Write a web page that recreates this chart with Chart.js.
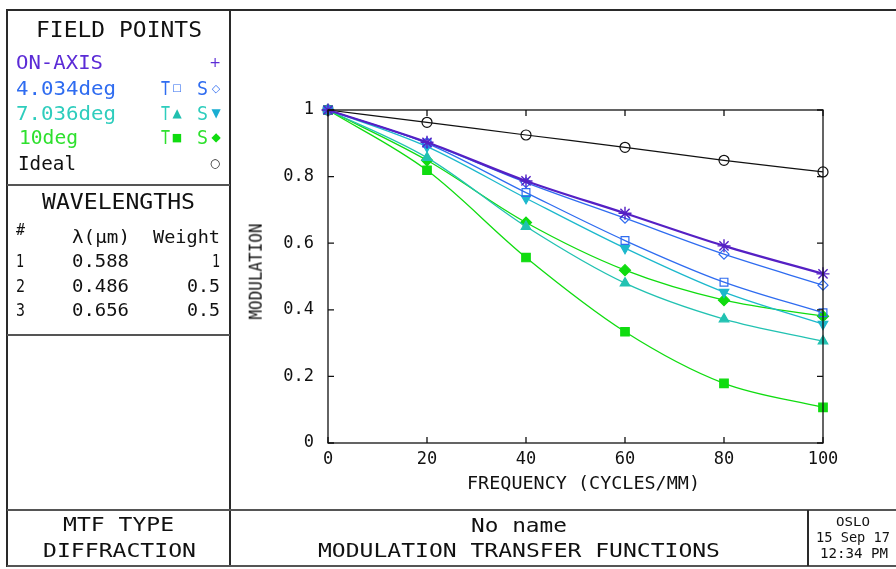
<!DOCTYPE html>
<html>
<head>
<meta charset="utf-8">
<script src="https://cdn.jsdelivr.net/npm/chart.js@4.4.1/dist/chart.umd.min.js"></script>
<style>
  html, body { margin: 0; padding: 0; background: #fff; }
  body { width: 896px; height: 569px; position: relative; overflow: hidden; font-family: "DejaVu Sans Mono", monospace; }
  #wrap { position: absolute; left: 0; top: 0; width: 896px; height: 569px; }
  .ln { position: absolute; background: #2a2a2a; }
  .t { position: absolute; white-space: pre; line-height: 1; color: #111; transform-origin: 0 50%; }
  .m { font-family: "DejaVu Sans", sans-serif; }
</style>
</head>
<body>
<div id="wrap"><canvas id="c" width="896" height="569"></canvas></div>

<!-- frame -->
<div class="ln" style="left:7px;top:9px;width:889px;height:2px"></div>
<div class="ln" style="left:6px;top:9px;width:2px;height:558px"></div>
<div class="ln" style="left:229px;top:9px;width:2px;height:558px"></div>
<div class="ln" style="left:7px;top:184px;width:223px;height:2px;background:#555"></div>
<div class="ln" style="left:7px;top:334px;width:223px;height:2px;background:#555"></div>
<div class="ln" style="left:7px;top:509px;width:889px;height:2px;background:#555"></div>
<div class="ln" style="left:7px;top:565px;width:889px;height:2px;background:#555"></div>
<div class="ln" style="left:807px;top:510px;width:2px;height:56px"></div>

<!-- field points panel -->
<div class="t" data-x="119" data-y="30" data-w="166" data-s="22" data-a="c">FIELD POINTS</div>
<div class="t" data-x="16" data-y="62" data-w="87" data-s="20" style="color:#5b2bd6">ON-AXIS</div>
<div class="t m" data-x="215" data-y="62" data-s="14" data-a="c" style="color:#5b2bd6">+</div>
<div class="t" data-x="16" data-y="88" data-w="100" data-s="20" style="color:#2f6cf0">4.034deg</div>
<div class="t" data-x="161" data-y="88" data-w="9" data-s="20" style="color:#2f6cf0">T</div>
<div class="t m" data-x="177" data-y="88" data-s="10" data-a="c" style="color:#2f6cf0">□</div>
<div class="t" data-x="197" data-y="88" data-w="11" data-s="20" style="color:#2f6cf0">S</div>
<div class="t m" data-x="216" data-y="88" data-s="11" data-a="c" style="color:#2f6cf0">◇</div>
<div class="t" data-x="16" data-y="113" data-w="100" data-s="20" style="color:#2ecdbd">7.036deg</div>
<div class="t" data-x="161" data-y="113" data-w="9" data-s="20" style="color:#2ecdbd">T</div>
<div class="t m" data-x="177" data-y="113" data-s="12" data-a="c" style="color:#20bfae">▲</div>
<div class="t" data-x="197" data-y="113" data-w="11" data-s="20" style="color:#2ecdbd">S</div>
<div class="t m" data-x="216" data-y="113" data-s="12" data-a="c" style="color:#1aaed2">▼</div>
<div class="t" data-x="19" data-y="137" data-w="59" data-s="20" style="color:#2ee02e">10deg</div>
<div class="t" data-x="161" data-y="137" data-w="9" data-s="20" style="color:#2ee02e">T</div>
<div class="t m" data-x="177" data-y="137" data-s="11" data-a="c" style="color:#10dc10">■</div>
<div class="t" data-x="197" data-y="137" data-w="11" data-s="20" style="color:#2ee02e">S</div>
<div class="t m" data-x="216" data-y="137" data-s="12" data-a="c" style="color:#10dc10">◆</div>
<div class="t" data-x="18" data-y="163" data-w="58" data-s="20">Ideal</div>
<div class="t m" data-x="215" data-y="163" data-s="12" data-a="c">○</div>

<!-- wavelengths panel -->
<div class="t" data-x="118" data-y="202" data-w="153" data-s="21" data-a="c">WAVELENGTHS</div>
<div class="t" data-x="16" data-y="230" data-w="9" data-s="16">#</div>
<div class="t" data-x="101" data-y="237" data-w="58" data-s="18" data-a="c">λ(μm)</div>
<div class="t" data-x="220" data-y="237" data-w="67" data-s="18" data-a="r">Weight</div>
<div class="t" data-x="16" data-y="261" data-w="8" data-s="18">1</div>
<div class="t" data-x="129" data-y="261" data-w="57" data-s="18" data-a="r">0.588</div>
<div class="t" data-x="220" data-y="261" data-w="8" data-s="18" data-a="r">1</div>
<div class="t" data-x="16" data-y="286" data-w="9" data-s="18">2</div>
<div class="t" data-x="129" data-y="286" data-w="57" data-s="18" data-a="r">0.486</div>
<div class="t" data-x="220" data-y="286" data-w="33" data-s="18" data-a="r">0.5</div>
<div class="t" data-x="16" data-y="310" data-w="9" data-s="18">3</div>
<div class="t" data-x="129" data-y="310" data-w="57" data-s="18" data-a="r">0.656</div>
<div class="t" data-x="220" data-y="310" data-w="33" data-s="18" data-a="r">0.5</div>

<!-- axis titles -->
<div class="t" id="ytitle" style="left:256px;top:271px;transform-origin:0 0">MODULATION</div>
<div class="t" data-x="583" data-y="483" data-w="233" data-s="17" data-a="c">FREQUENCY (CYCLES/MM)</div>

<!-- bottom panel -->
<div class="t" data-x="118" data-y="524" data-w="111" data-s="20" data-a="c">MTF TYPE</div>
<div class="t" data-x="119" data-y="550" data-w="153" data-s="20" data-a="c">DIFFRACTION</div>
<div class="t" data-x="519" data-y="525" data-w="96" data-s="20" data-a="c">No name</div>
<div class="t" data-x="519" data-y="550" data-w="402" data-s="20" data-a="c">MODULATION TRANSFER FUNCTIONS</div>
<div class="t" data-x="853" data-y="521" data-w="34" data-s="13" data-a="c">OSLO</div>
<div class="t" data-x="853" data-y="537" data-w="74" data-s="14" data-a="c">15 Sep 17</div>
<div class="t" data-x="854" data-y="553" data-w="68" data-s="14" data-a="c">12:34 PM</div>

<script>
// ---- data ----
const frequency = [0, 20, 40, 60, 80, 100];
const onAxis    = [1, 0.903, 0.787, 0.690, 0.592, 0.508];
const f4T       = [1, 0.900, 0.752, 0.608, 0.483, 0.391];
const f4S       = [1, 0.902, 0.782, 0.675, 0.567, 0.474];
const f7T       = [1, 0.857, 0.650, 0.480, 0.372, 0.306];
const f7S       = [1, 0.890, 0.735, 0.585, 0.453, 0.357];
const f10T      = [1, 0.819, 0.557, 0.334, 0.179, 0.107];
const f10S      = [1, 0.849, 0.662, 0.519, 0.429, 0.381];
const ideal     = [1, 0.963, 0.925, 0.888, 0.849, 0.814];
const xTicks    = [0, 20, 40, 60, 80, 100];
const yTicks    = [0, 0.2, 0.4, 0.6, 0.8, 1];

// ---- text placement ----
document.querySelectorAll('.t[data-x]').forEach(el => {
  const s = +el.dataset.s;
  el.style.fontSize = s + 'px';
  const natural = el.getBoundingClientRect().width;
  const target = el.dataset.w ? +el.dataset.w : natural;
  const k = target / natural;
  const x = +el.dataset.x, y = +el.dataset.y;
  let left = x;
  if (el.dataset.a === 'c') left = x - target / 2;
  else if (el.dataset.a === 'r') left = x - target;
  el.style.left = left + 'px';
  el.style.top = (y - s / 2) + 'px';
  el.style.transform = 'scaleX(' + k + ')';
});
(function () {
  const el = document.getElementById('ytitle');
  el.style.fontSize = '17px';
  const w = el.getBoundingClientRect().width;
  const k = 96 / w;
  el.style.left = (256 - w / 2) + 'px';
  el.style.top = (271 - 8.5) + 'px';
  el.style.transformOrigin = '50% 50%';
  el.style.transform = 'rotate(-90deg) scaleX(' + k + ')';
})();

function ds(label, data, color, style, opts) {
  return Object.assign({
    label, data: frequency.map((f, i) => ({ x: f, y: data[i] })),
    borderColor: color, backgroundColor: color, pointBorderColor: color,
    pointBackgroundColor: color, pointStyle: style, pointRadius: 4.5,
    pointBorderWidth: 1.2, borderWidth: 1.3, cubicInterpolationMode: 'monotone',
    clip: false
  }, opts || {});
}

const boxPlugin = {
  id: 'box',
  afterDatasetsDraw(chart) {
    const { ctx, chartArea: a, scales } = chart;
    ctx.save();
    ctx.strokeStyle = '#111';
    ctx.lineWidth = 1.3;
    ctx.strokeRect(a.left, a.top, a.right - a.left, a.bottom - a.top);
    const L = 6;
    ctx.beginPath();
    xTicks.forEach(v => {
      const p = scales.x.getPixelForValue(v);
      ctx.moveTo(p, a.bottom); ctx.lineTo(p, a.bottom - L);
      ctx.moveTo(p, a.top); ctx.lineTo(p, a.top + L);
    });
    yTicks.forEach(v => {
      const p = scales.y.getPixelForValue(v);
      ctx.moveTo(a.left, p); ctx.lineTo(a.left + L, p);
      ctx.moveTo(a.right, p); ctx.lineTo(a.right - L, p);
    });
    ctx.stroke();
    ctx.restore();
  }
};

const white = 'rgba(255,255,255,0)';
// Chart.js paints dataset 0 last (on top), so the on-axis curve comes first
new Chart(document.getElementById('c'), {
  type: 'line',
  data: {
    datasets: [
      ds('ON-AXIS', onAxis, '#5520c4', 'star', { pointRadius: 6.5, borderWidth: 2.2, pointBorderWidth: 1.4 }),
      ds('4.034deg S', f4S, '#2f6cf0', 'rectRot', { pointRadius: 5, pointBackgroundColor: white }),
      ds('4.034deg T', f4T, '#2f6cf0', 'rect', { pointRadius: 5.5, pointBackgroundColor: white }),
      ds('7.036deg S', f7S, '#1cb8cc', 'triangle', { pointRadius: 5.5, pointRotation: 180 }),
      ds('7.036deg T', f7T, '#22c2b2', 'triangle', { pointRadius: 5.5 }),
      ds('10deg T', f10T, '#10dc10', 'rect', { pointRadius: 6 }),
      ds('10deg S', f10S, '#10dc10', 'rectRot', { pointRadius: 5.5 }),
      ds('Ideal', ideal, '#111111', 'circle', { pointRadius: 5, pointBackgroundColor: white, borderWidth: 1.2 })
    ]
  },
  options: {
    responsive: false,
    animation: false,
    events: [],
    layout: { padding: { left: 240, top: 110, right: 73, bottom: 60 } },
    plugins: { legend: { display: false }, tooltip: { enabled: false } },
    scales: {
      x: {
        type: 'linear', min: 0, max: 100,
        afterBuildTicks: s => { s.ticks = xTicks.map(v => ({ value: v })); },
        afterFit: s => { s.height = 66; },
        grid: { display: false, drawTicks: false },
        border: { display: false },
        ticks: { padding: 6, color: '#111', font: { family: 'DejaVu Sans Mono', size: 17 }, maxRotation: 0 }
      },
      y: {
        type: 'linear', min: 0, max: 1,
        afterBuildTicks: s => { s.ticks = yTicks.map(v => ({ value: v })); },
        afterFit: s => { s.width = 88; },
        grid: { display: false, drawTicks: false },
        border: { display: false },
        ticks: { padding: 14, color: '#111', font: { family: 'DejaVu Sans Mono', size: 17 },
                 callback: v => String(Math.round(v * 10) / 10) }
      }
    }
  },
  plugins: [boxPlugin]
});
</script>
</body>
</html>
